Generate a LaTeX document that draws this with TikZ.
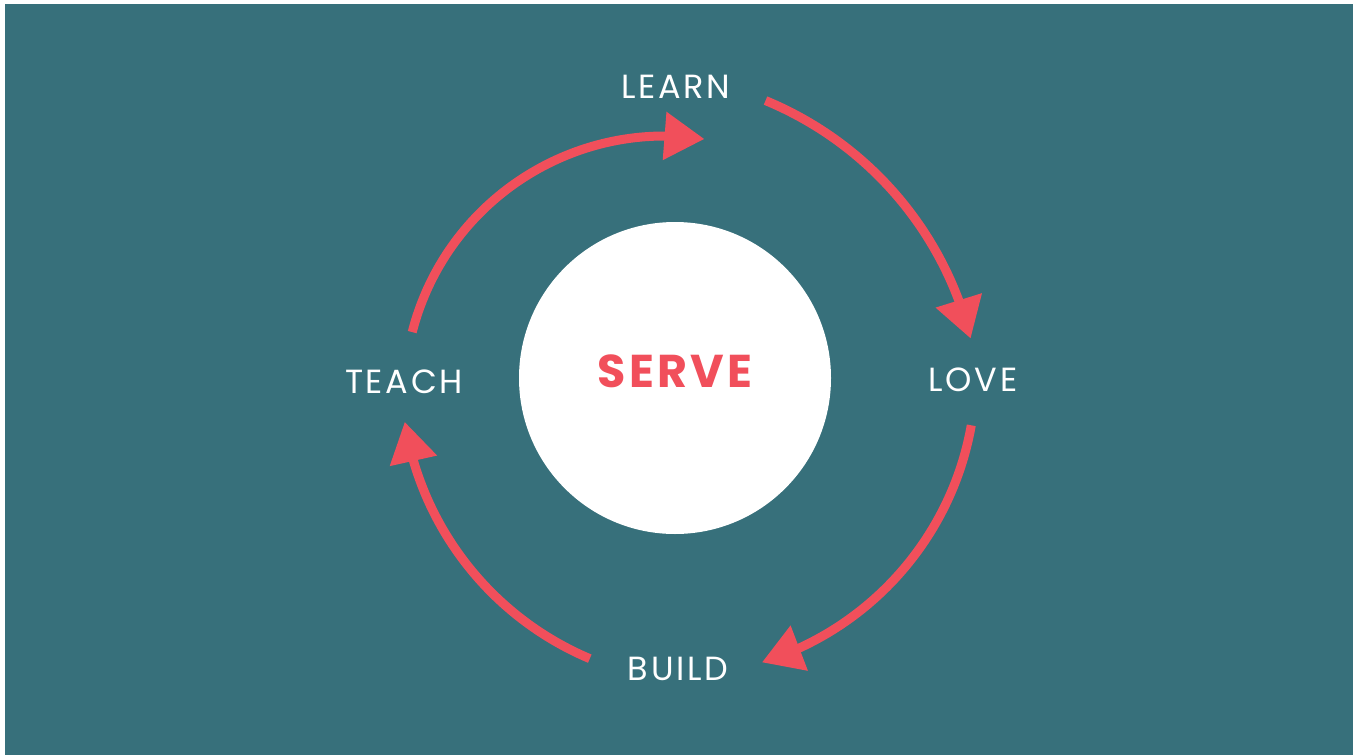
\documentclass[tikz,border=0pt]{standalone}
\usepackage{fontspec}
\setmainfont{Poppins}
\usetikzlibrary{arrows.meta,bending}
\definecolor{bg}{HTML}{37707B}
\definecolor{accent}{HTML}{F14F5B}
\begin{document}
\begin{tikzpicture}[x=1pt,y=-1pt,
  lbl/.style={text=white,inner sep=0pt,anchor=base,font=\addfontfeatures{LetterSpace=8}\fontsize{33.5}{34}\selectfont},
  flow/.style={accent,line width=9pt,-{Triangle[length=40pt,width=46pt,flex]}}]
\fill[white] (0,0) rectangle (1353,755);
\useasboundingbox (0,0) rectangle (1353,755);
\fill[bg] (5,4) rectangle (1353,755);
\node[circle,fill=white,minimum size=312pt,inner sep=0pt] (hub) at (675,378) {};
\node[anchor=base,inner sep=0pt,text=accent,font=\bfseries\addfontfeatures{LetterSpace=7}\fontsize{46}{46}\selectfont] (serve) at (675,387) {SERVE};
\node[lbl] (learn) at (676,98) {LEARN};
\node[lbl] (love) at (973,391) {LOVE};
\node[lbl] (build) at (678,680) {BUILD};
\node[lbl] (teach) at (404,393) {TEACH};
\coordinate (c1) at (632,423);
\coordinate (c2) at (672,372);
\coordinate (c3) at (710,374);
\coordinate (c4) at (665,397);
\draw[flow] ([shift={(-67.5:349)}]c1) arc[start angle=-67.5,end angle=-14,radius=349];
\draw[flow] ([shift={(10.1:304)}]c2) arc[start angle=10.1,end angle=72.8,radius=304];
\draw[flow] ([shift={(112.9:309)}]c3) arc[start angle=112.9,end angle=171.1,radius=309];
\draw[flow] ([shift={(194.4:261)}]c4) arc[start angle=194.4,end angle=278.7,radius=261];
\end{tikzpicture}
\end{document}
